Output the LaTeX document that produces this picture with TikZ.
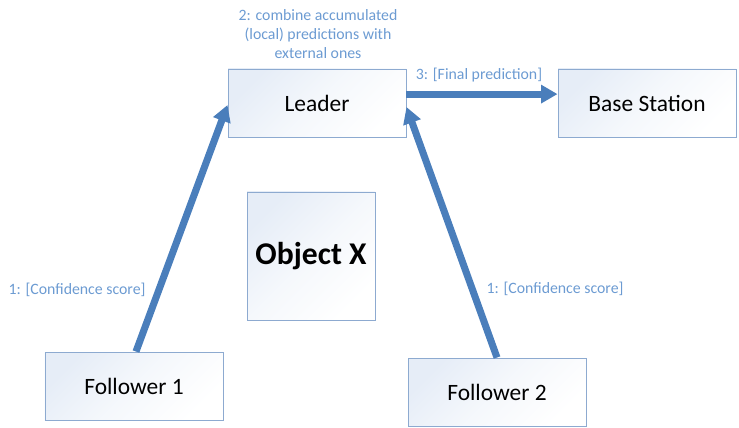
\documentclass[tikz,border=0pt]{standalone}
\usepackage{fontspec}
\setmainfont{Carlito}
\usetikzlibrary{arrows.meta}

\definecolor{boxline}{RGB}{141,170,208}
\definecolor{boxtint}{RGB}{230,237,247}
\definecolor{flow}{RGB}{74,126,187}
\definecolor{note}{RGB}{108,155,210}

\tikzstyle{agent} = [draw=boxline,line width=0.8pt,shading=axis,top color=boxtint,bottom color=white,middle color=white!60!boxtint,shading angle=45,minimum width=5.34cm,minimum height=2.04cm,font=\fontsize{20}{24}\selectfont]
\tikzstyle{target} = [agent,minimum width=3.84cm,minimum height=3.84cm,font=\fontsize{27}{32}\selectfont\bfseries]
\tikzstyle{msg} = [text=note,font=\fontsize{13.5}{16}\selectfont]
\tikzstyle{flowline} = [draw=flow,line width=6pt,-{Triangle[length=14pt,width=15pt]}]

\begin{document}
\begin{tikzpicture}[x=0.03cm,y=-0.03cm]
		\useasboundingbox (0,0) rectangle (739,428);
		\node[agent] (leader) at (317,103) {Leader};
		\node[agent] (bs) at (647,103) {Base Station};
		\node[agent] (f1) at (134,386) {Follower 1};
		\node[agent] (f2) at (497,392) {Follower 2};
		\node[target] (objx) at (311,256) {Object X};
		\node[msg,align=center] (combine) at (318,34) {2: combine accumulated\\(local) predictions with\\external ones};
		\node[msg] (final) at (479,75) {3: [Final prediction]};
		\node[msg] (conf1) at (77,290) {1: [Confidence score]};
		\node[msg] (conf2) at (555,289) {1: [Confidence score]};
		\draw[flowline] ([xshift=1.7pt]f1.north) -- ([yshift=-1.7pt]leader.west);
		\draw[flowline] (f2.north) -- ([yshift=-3.4pt]leader.east);
		\draw[flowline] ([yshift=7.6pt]leader.east) -- ([yshift=7.6pt]bs.west);
		\end{tikzpicture}
\end{document}
